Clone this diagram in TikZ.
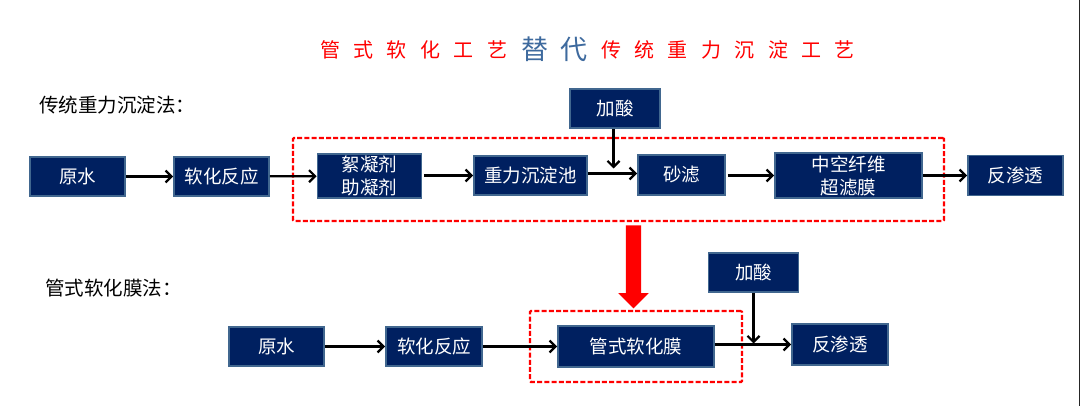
\documentclass[tikz,border=0pt]{standalone}
\usepackage{fontspec}
\setmainfont{Noto Sans CJK SC}
\usetikzlibrary{arrows.meta,shapes.arrows}
\definecolor{boxfill}{HTML}{002060}
\definecolor{boxline}{HTML}{41678F}
\definecolor{swapblue}{HTML}{3E6A9E}
\tikzset{
  procbox/.style={draw=boxline,fill=boxfill,line width=1.8pt,text=white,inner sep=0pt,align=center,
    font=\fontsize{18.5}{23}\selectfont},
  redframe/.style={draw=red,line width=2.3pt,dash pattern=on 5pt off 2.2pt,rounded corners=1pt,inner sep=0pt},
  flow/.style={draw=black,line width=2.2pt,-{Straight Barb[length=6pt,width=12pt,line width=2.2pt]}},
  sidelabel/.style={anchor=west,inner sep=0pt,font=\fontsize{19.5}{22}\selectfont},
  swaparrow/.style={shape=single arrow,fill=red,inner xsep=0pt,inner ysep=7.5pt,minimum height=83pt,
    single arrow head extend=7.5pt,rotate=-90}
}
\begin{document}
\begin{tikzpicture}[x=1pt,y=-1pt]
  \useasboundingbox (0,0) rectangle (1080,406);
  \fill[white] (0,0) rectangle (1080,406);
  \draw[black!85,line width=1pt] (1079.5,0) -- (1079.5,406);
  % title
  \node[inner sep=0pt,anchor=west,text=red,font=\fontsize{20}{24}\selectfont\addfontfeature{LetterSpace=67}] (titleleft) at (320,50) {管式软化工艺};
  \node[inner sep=0pt,anchor=west,text=swapblue,font=\fontsize{27}{30}\selectfont\addfontfeature{LetterSpace=44}] (titlemid) at (521,49) {替代};
  \node[inner sep=0pt,anchor=west,text=red,font=\fontsize{20}{24}\selectfont\addfontfeature{LetterSpace=67}] (titleright) at (601,50) {传统重力沉淀工艺};
  \node[sidelabel] (oldlabel) at (39,105) {传统重力沉淀法：};
  \node[sidelabel] (newlabel) at (45,288) {管式软化膜法：};
  % frames
  \node[redframe,minimum width=651pt,minimum height=83pt] (oldframe) at (618.5,179.5) {};
  \node[redframe,minimum width=212pt,minimum height=71pt] (newframe) at (636,346.5) {};
  % upper line
  \node[procbox,minimum width=95pt,minimum height=39pt] (rawa) at (77.5,176.5) {原水};
  \node[procbox,minimum width=95pt,minimum height=39pt] (softa) at (221.5,176.5) {软化反应};
  \node[procbox,minimum width=104pt,minimum height=44pt] (floc) at (369.5,176) {絮凝剂\\助凝剂};
  \node[procbox,minimum width=113pt,minimum height=39pt] (settle) at (530.5,175.5) {重力沉淀池};
  \node[procbox,minimum width=87pt,minimum height=40pt] (sand) at (681.5,175) {砂滤};
  \node[procbox,minimum width=147pt,minimum height=45pt] (fiber) at (848.5,175.5) {中空纤维\\超滤膜};
  \node[procbox,minimum width=95pt,minimum height=40pt] (roa) at (1015.5,175.5) {反渗透};
  \node[procbox,minimum width=90pt,minimum height=39pt] (acida) at (615,108.5) {加酸};
  \coordinate (joina) at (613.5,173.5);
  % lower line
  \node[procbox,minimum width=95pt,minimum height=39pt] (rawb) at (276.5,346.5) {原水};
  \node[procbox,minimum width=96pt,minimum height=39pt] (softb) at (434,346.5) {软化反应};
  \node[procbox,minimum width=156pt,minimum height=41pt] (tube) at (636,346.5) {管式软化膜};
  \node[procbox,minimum width=96pt,minimum height=41pt] (rob) at (840,344.5) {反渗透};
  \node[procbox,minimum width=90pt,minimum height=39pt] (acidb) at (753.5,272.5) {加酸};
  \coordinate (joinb) at (753.5,344.5);
  % big arrow
  \node[swaparrow] (swap) at (633.5,263) {};
  % connectors
  \foreach \from/\to in {rawa/softa,softa/floc,rawb/softb,softb/tube}
    \draw[flow] (\from) -- (\to);
  \draw[flow,shorten <=2pt] (floc.east |- settle) -- (settle);
  \draw[flow] (settle.east |- joina) -- (sand.west |- joina);
  \draw[flow,shorten <=2pt] (sand.east |- fiber) -- (fiber);
  \draw[flow] (fiber.east |- roa) -- (roa);
  \draw[flow] (tube.east |- rob) -- (rob);
  \draw[flow,shorten >=5pt] (acida.south -| joina) -- (joina);
  \draw[flow,shorten >=1pt] (acidb) -- (joinb);
\end{tikzpicture}
\end{document}
